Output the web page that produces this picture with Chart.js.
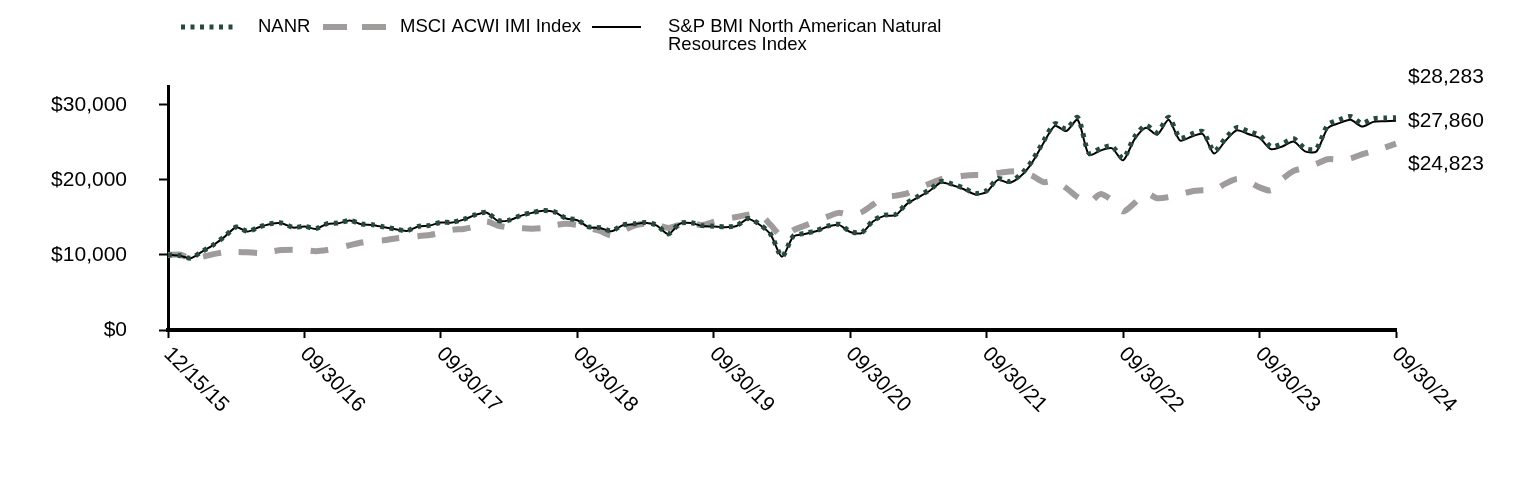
<!DOCTYPE html>
<html lang="en">
<head>
  <meta charset="UTF-8">
  <title>Growth of $10,000</title>
  <script src="https://cdn.jsdelivr.net/npm/chart.js"></script>
  <style>
    html, body { margin: 0; padding: 0; background: #fff; }
    .chart-box { position: relative; width: 1524px; height: 480px; }
  </style>
</head>
<body>
  <div class="chart-box"><canvas id="growthChart"></canvas></div>

  <script>
    // tick labels, one every 12 monthly periods
    const tickLabels = ['12/15/15', '09/30/16', '09/30/17', '09/30/18', '09/30/19',
                        '09/30/20', '09/30/21', '09/30/22', '09/30/23', '09/30/24'];
    const periodsPerTick = 12;
    const yTickValues = [0, 10000, 20000, 30000];

    const seriesNames = ['NANR', 'MSCI ACWI IMI Index', 'S&P BMI North American Natural', 'Resources Index'];

    const nanrValues = [
      10000, 9910, 9580, 10460, 11350, 12470, 13720, 13140, 13720, 14160, 14250, 13670,
      13810, 13500, 14160, 14250, 14600, 14120, 14030, 13720, 13450, 13230, 13810, 13940,
      14340, 14350, 14740, 15340, 15680, 14590, 14640, 15240, 15640, 15910, 15740, 14890,
      14660, 13730, 13640, 13190, 13990, 14140, 14320, 13940, 12800, 14200, 14300, 13900,
      13830, 13740, 13900, 14860, 14110, 12760, 9800, 12520, 12870, 13220, 13830, 14080,
      13120, 12980, 14550, 15300, 15400, 16920, 17830, 18690, 19800, 19430, 18900, 18200,
      18560, 20180, 19780, 20700, 22520, 25150, 27480, 26780, 28300, 23560, 24170, 24500,
      22870, 25700, 27270, 26310, 28340, 25560, 26080, 26440, 23810, 25540, 26960, 26460,
      25940, 24440, 24810, 25480, 24170, 24150, 27320, 27980, 28440, 27530, 28140, 28230,
      28283
    ];

    const msciValues = [
      10000, 10050, 9560, 9750, 10100, 10350, 10400, 10350, 10250, 10450, 10650, 10700,
      10650, 10500, 10650, 10950, 11300, 11650, 11850, 11950, 12200, 12350, 12500, 12650,
      12950, 13350, 13450, 13800, 14450, 13900, 13650, 13580, 13500, 13580, 13950, 14150,
      14000, 13600, 13200, 12600, 13200, 13900, 14150, 14000, 13600, 14000, 14150, 14000,
      14400, 14800, 15050, 15350, 15450, 14000, 12450, 13300, 13900, 14500, 15100, 15600,
      15300, 15700, 16700, 17700, 17900, 18200, 18900, 19500, 20100, 20350, 20550, 20650,
      20650, 20900, 21100, 21100, 20550, 19700, 19850, 18900, 17700, 17000, 18100, 17300,
      15800, 16900, 18200, 17550, 17700, 18050, 18450, 18600, 18650, 19500, 20100, 19780,
      19000, 18600, 20100, 21200, 21600, 22150, 22750, 22700, 22850, 23400, 23800, 24300,
      24823
    ];

    const spValues = [
      10000, 9900, 9560, 10440, 11330, 12440, 13690, 13110, 13690, 14130, 14220, 13640,
      13780, 13470, 14130, 14220, 14570, 14090, 14000, 13690, 13420, 13200, 13780, 13910,
      14310, 14310, 14700, 15300, 15640, 14550, 14600, 15200, 15600, 15870, 15700, 14850,
      14620, 13690, 13600, 13150, 13950, 14100, 14280, 13900, 12760, 14150, 14250, 13850,
      13780, 13690, 13850, 14800, 14050, 12700, 9750, 12450, 12800, 13150, 13750, 14000,
      13050, 12900, 14450, 15200, 15300, 16800, 17700, 18550, 19650, 19280, 18750, 18050,
      18400, 20000, 19600, 20500, 22300, 24900, 27200, 26500, 28000, 23300, 23900, 24220,
      22600, 25400, 26950, 26000, 28000, 25240, 25750, 26100, 23500, 25200, 26600, 26100,
      25580, 24090, 24450, 25100, 23800, 23780, 26900, 27550, 28000, 27100, 27720, 27800,
      27860
    ];

    const periods = nanrValues.map((v, i) => i);

    const fontFamily = '"Liberation Sans", Arial, Helvetica, sans-serif';
    Chart.defaults.font.family = fontFamily;
    Chart.defaults.color = '#000';

    const nanrColor = '#264a3c';
    const msciColor = '#a09c9c';
    const spColor = '#000000';
    const nanrDash = [4, 5.5];
    const msciDash = [18, 18];

    const money = v => '$' + Math.round(v).toLocaleString('en-US');

    // legend across the top, S&P name wraps to two lines
    const topLegend = {
      id: 'topLegend',
      afterDraw(chart) {
        const ctx = chart.ctx;
        ctx.save();
        ctx.lineCap = 'butt';

        ctx.strokeStyle = nanrColor;
        ctx.lineWidth = 5;
        ctx.setLineDash(nanrDash);
        ctx.beginPath(); ctx.moveTo(181, 27); ctx.lineTo(237, 27); ctx.stroke();

        ctx.strokeStyle = msciColor;
        ctx.lineWidth = 6;
        ctx.setLineDash([24, 15]);
        ctx.beginPath(); ctx.moveTo(323, 27); ctx.lineTo(386, 27); ctx.stroke();

        ctx.strokeStyle = spColor;
        ctx.lineWidth = 2;
        ctx.setLineDash([]);
        ctx.beginPath(); ctx.moveTo(592, 27); ctx.lineTo(641, 27); ctx.stroke();

        ctx.fillStyle = '#000';
        ctx.font = '18.5px ' + fontFamily;
        ctx.textBaseline = 'middle';
        ctx.textAlign = 'left';
        ctx.fillText(seriesNames[0], 258, 27);
        ctx.fillText(seriesNames[1], 400, 27);
        ctx.fillText(seriesNames[2], 668, 27);
        ctx.fillText(seriesNames[3], 668, 45);
        ctx.restore();
      }
    };

    // slanted date labels under the x axis
    const slantedDates = {
      id: 'slantedDates',
      afterDraw(chart) {
        const ctx = chart.ctx;
        const x = chart.scales.x;
        ctx.save();
        ctx.fillStyle = '#000';
        ctx.font = '21px ' + fontFamily;
        ctx.textAlign = 'left';
        ctx.textBaseline = 'middle';
        tickLabels.forEach((label, k) => {
          const px = x.getPixelForValue(k * periodsPerTick);
          ctx.save();
          ctx.translate(px - 1, 351);
          ctx.rotate(Math.PI / 4);
          ctx.fillText(label, 0, 0);
          ctx.restore();
        });
        ctx.restore();
      }
    };

    // ending values on the right, spread so they don't overlap
    const endValues = {
      id: 'endValues',
      afterDraw(chart) {
        const ctx = chart.ctx;
        const y = chart.scales.y;
        const last = spValues.length - 1;
        const mid = y.getPixelForValue(spValues[last]);
        ctx.save();
        ctx.fillStyle = '#000';
        ctx.font = '21px ' + fontFamily;
        ctx.textAlign = 'left';
        ctx.textBaseline = 'middle';
        const left = chart.chartArea.right + 12;
        ctx.fillText(money(nanrValues[last]), left, mid - 44);
        ctx.fillText(money(spValues[last]), left, mid);
        ctx.fillText(money(msciValues[last]), left, mid + 43);
        ctx.restore();
      }
    };

    const ctx = document.getElementById('growthChart').getContext('2d');
    new Chart(ctx, {
      type: 'line',
      data: {
        labels: periods,
        datasets: [
          {
            label: seriesNames[0],
            data: nanrValues,
            borderColor: nanrColor,
            borderWidth: 5,
            borderDash: nanrDash,
            borderCapStyle: 'butt',
            pointRadius: 0,
            tension: 0.25,
            fill: false
          },
          {
            label: seriesNames[2] + ' ' + seriesNames[3],
            data: spValues,
            borderColor: spColor,
            borderWidth: 2,
            pointRadius: 0,
            tension: 0.25,
            fill: false
          },
          {
            label: seriesNames[1],
            data: msciValues,
            borderColor: msciColor,
            borderWidth: 6,
            borderDash: msciDash,
            borderCapStyle: 'butt',
            pointRadius: 0,
            tension: 0.25,
            fill: false
          }
        ]
      },
      options: {
        responsive: true,
        maintainAspectRatio: false,
        animation: false,
        events: [],
        layout: { padding: { top: 86, right: 128, left: 0, bottom: 0 } },
        plugins: {
          legend: { display: false },
          tooltip: { enabled: false }
        },
        scales: {
          x: {
            type: 'category',
            offset: false,
            grid: {
              display: true,
              drawOnChartArea: false,
              drawTicks: true,
              tickLength: 8,
              tickWidth: 2,
              tickColor: '#000'
            },
            border: { display: true, color: '#000', width: 4 },
            ticks: { display: false },
            afterBuildTicks(scale) {
              scale.ticks = scale.ticks.filter(t => t.value % periodsPerTick === 0);
            },
            afterFit(scale) { scale.height = 150; }
          },
          y: {
            min: 0,
            max: 32500,
            afterBuildTicks(scale) {
              scale.ticks = yTickValues.map(v => ({ value: v }));
            },
            grid: {
              display: true,
              drawOnChartArea: false,
              drawTicks: true,
              tickLength: 9,
              tickWidth: 2,
              tickColor: '#000'
            },
            border: { display: true, color: '#000', width: 3 },
            ticks: {
              padding: 32,
              color: '#000',
              font: { size: 21, family: fontFamily },
              callback: v => money(v)
            },
            afterFit(scale) { scale.width = 168; }
          }
        }
      },
      plugins: [topLegend, slantedDates, endValues]
    });
  </script>
</body>
</html>
